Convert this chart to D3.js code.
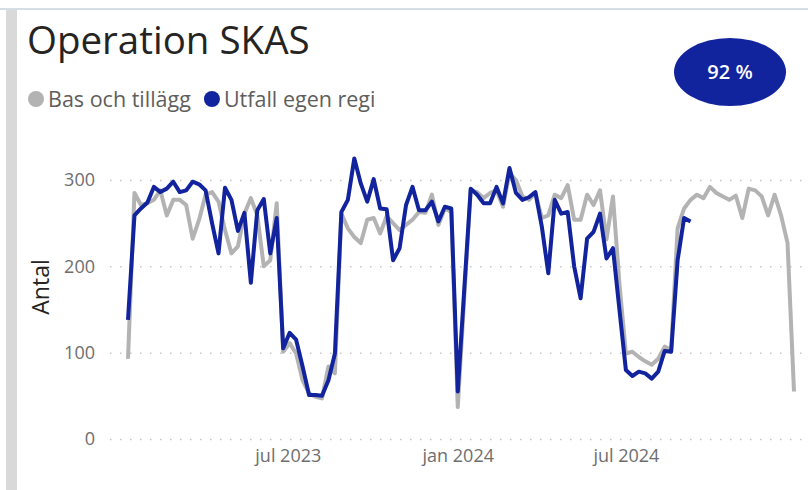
<!DOCTYPE html>
<meta charset="utf-8">
<style>
  body { margin: 0; background: #fff; }
  text { font-family: "Open Sans", "Noto Sans", sans-serif; }
</style>
<svg id="mainsvg" width="808" height="490"></svg>
<script src="https://cdnjs.cloudflare.com/ajax/libs/d3/7.8.5/d3.min.js"></script>
<script>

// veckodata, första veckan 2023-01-09
const startWeek = new Date(2023, 0, 9)
const nWeeks = 104

const bas = [
  93, 285, 271, 273, 277, 288, 259, 277, 277, 271,
  232, 254, 283, 286, 275, 242, 215, 223, 261, 279,
  259, 200, 207, 273, 101, 111, 99, 68, 53, 49,
  47, 84, 76, 261, 244, 234, 227, 254, 256, 238,
  258, 250, 242, 248, 254, 263, 262, 283, 248, 267,
  263, 37, 163, 288, 286, 279, 285, 288, 269, 308,
  300, 281, 277, 285, 256, 259, 283, 279, 294, 254,
  254, 283, 271, 288, 231, 281, 180, 99, 101, 95,
  90, 86, 93, 107, 103, 244, 267, 277, 283, 279,
  292, 285, 281, 277, 282, 256, 290, 288, 281, 259,
  283, 259, 227, 55
]

const utfall = [
  138, 259, 267, 274, 292, 286, 290, 298, 286, 288,
  298, 295, 288, 250, 215, 291, 277, 241, 262, 181,
  265, 278, 215, 256, 105, 123, 115, 84, 51, 51,
  50, 68, 99, 263, 277, 325, 296, 275, 301, 267,
  266, 207, 221, 271, 292, 265, 265, 275, 252, 269,
  267, 55, 173, 290, 283, 273, 273, 292, 273, 314,
  285, 277, 280, 286, 246, 192, 277, 261, 263, 200,
  163, 232, 240, 261, 209, 221, 150, 80, 73, 78,
  76, 70, 78, 102, 101, 207, 256, 252
]

const seriesNames = ["Bas och tillägg", "Utfall egen regi"]
const seriesColors = ["#b3b3b3", "#12239e"]
const yTicks = [0, 100, 200, 300]
const xTickDates = [new Date(2023, 6, 1), new Date(2024, 0, 1), new Date(2024, 6, 1)]
const xTickLabels = ["jul 2023", "jan 2024", "jul 2024"]
const kpiText = "92 %"

const weeks = d3.timeMonday.range(startWeek, d3.timeMonday.offset(startWeek, nWeeks))

const svg = d3.select("#mainsvg")

// ram
svg.append("rect").attr("x", 0).attr("y", 8).attr("width", 808).attr("height", 2).attr("fill", "#d6dde3")
svg.append("rect").attr("x", 6).attr("y", 10).attr("width", 11).attr("height", 480).attr("fill", "#d9d9d9")

const x = d3.scaleTime()
  .domain([weeks[0], weeks[weeks.length - 1]])
  .range([128, 794])

const y = d3.scaleLinear()
  .domain([0, 300])
  .range([439, 180])

// y-axel med rutnät
const yAxis = svg.append("g")
  .attr("transform", "translate(110,0)")
  .call(d3.axisLeft(y).tickValues(yTicks).tickSize(-698).tickPadding(15))
yAxis.select(".domain").remove()
yAxis.selectAll(".tick line")
  .attr("stroke", "#c8c6c4")
  .attr("stroke-width", 1.5)
  .attr("stroke-dasharray", "1.5,8.5")
yAxis.selectAll(".tick text")
  .attr("fill", "#6e6e6e")
  .style("font-size", "18px")

const xAxis = svg.append("g")
  .attr("transform", "translate(0,446)")
  .call(d3.axisBottom(x).tickValues(xTickDates).tickSize(0)
    .tickFormat((d, i) => xTickLabels[i]))
xAxis.select(".domain").remove()
xAxis.selectAll(".tick text")
  .attr("fill", "#6e6e6e")
  .style("font-size", "18px")

svg.append("text")
  .attr("transform", "translate(49,287) rotate(-90)")
  .attr("text-anchor", "middle")
  .attr("fill", "#252423")
  .style("font-size", "23px")
  .text("Antal")

// linjer
const line = d3.line()
  .defined(d => d[1] != null)
  .x(d => x(d[0]))
  .y(d => y(d[1]))

const series = [bas, utfall]
series.forEach((vals, k) => {
  svg.append("path")
    .datum(weeks.map((w, i) => [w, i < vals.length ? vals[i] : null]))
    .attr("fill", "none")
    .attr("stroke", seriesColors[k])
    .attr("stroke-width", 4)
    .attr("stroke-linejoin", "round")
    .attr("d", line)
})

// rubrik
svg.append("text")
  .attr("x", 27)
  .attr("y", 54)
  .attr("fill", "#252423")
  .style("font-size", "38.5px")
  .text("Operation SKAS")

// förklaring
let lx = 36
seriesNames.forEach((name, k) => {
  svg.append("circle")
    .attr("cx", lx).attr("cy", 99).attr("r", 8)
    .attr("fill", seriesColors[k])
  const t = svg.append("text")
    .attr("x", lx + 12)
    .attr("y", 106.5)
    .attr("fill", "#605e5c")
    .style("font-size", "21.5px")
    .text(name)
  lx = lx + 12 + t.node().getComputedTextLength() + 21
})

// KPI
svg.append("ellipse")
  .attr("cx", 730).attr("cy", 72)
  .attr("rx", 56).attr("ry", 34)
  .attr("fill", "#12239e")
svg.append("text")
  .attr("x", 730).attr("y", 79)
  .attr("text-anchor", "middle")
  .attr("fill", "#fff")
  .style("font-size", "20px")
  .style("font-weight", 600)
  .text(kpiText)

</script>
